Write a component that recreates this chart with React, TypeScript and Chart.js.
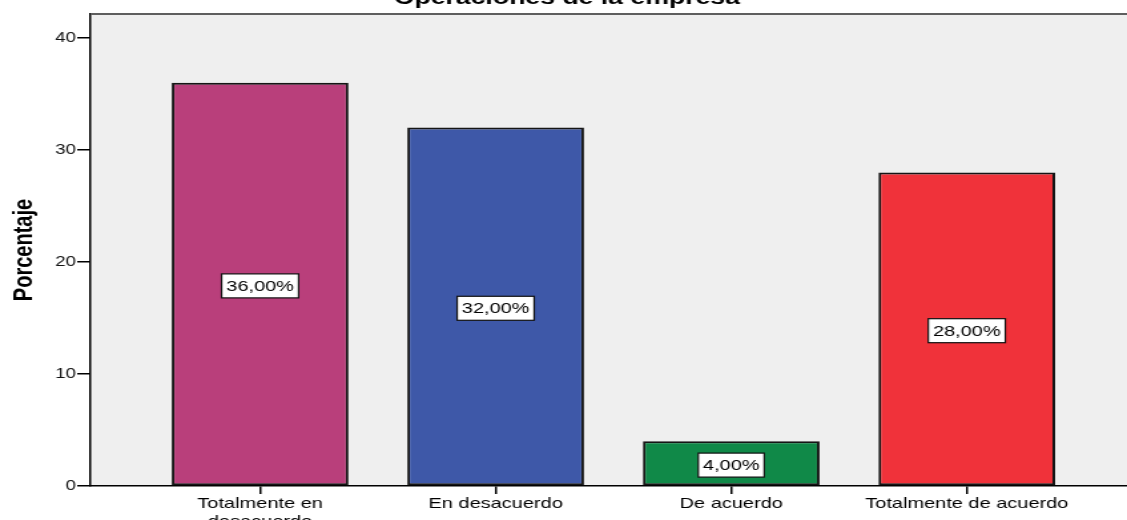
import React, { useEffect, useRef } from 'react';
import { Chart, registerables } from 'chart.js';

Chart.register(...registerables);

// ---- data ----
const categories: string[][] = [
  ['Totalmente en', 'desacuerdo'],
  ['En desacuerdo'],
  ['De acuerdo'],
  ['Totalmente de acuerdo'],
];
const percentages = [36, 32, 4, 28];
const barColors = ['#b93f7b', '#3e58a8', '#108948', '#f0323a'];
const yTickStep = 10;
const chartTitle = 'Operaciones de la empresa';
const yAxisTitle = 'Porcentaje';

// ---- layout / style ----
const STRETCH = 1.33; // reference is horizontally stretched
const VIEW_W = 1127;
const VIEW_H = 520;
const CANVAS_W = Math.round(VIEW_W / STRETCH);
const FONT = '"Liberation Sans", Arial, Helvetica, sans-serif';

const fmt = (v: number) => v.toFixed(2).replace('.', ',') + '%';

const decorPlugin = {
  id: 'decor',
  beforeDraw(chart: any) {
    const { ctx, chartArea } = chart;
    ctx.save();
    ctx.fillStyle = '#efefef';
    ctx.fillRect(chartArea.left, chartArea.top, chartArea.right - chartArea.left, chartArea.bottom - chartArea.top);
    ctx.restore();
  },
  afterDraw(chart: any) {
    const { ctx, chartArea } = chart;
    ctx.save();
    // top frame line
    ctx.strokeStyle = '#5e5e5e';
    ctx.lineWidth = 2;
    ctx.beginPath();
    ctx.moveTo(chartArea.left, chartArea.top);
    ctx.lineTo(chartArea.right, chartArea.top);
    ctx.stroke();
    // title (cropped at top)
    ctx.fillStyle = '#000';
    ctx.font = `bold 20px ${FONT}`;
    ctx.textAlign = 'center';
    ctx.textBaseline = 'alphabetic';
    ctx.fillText(chartTitle, 426, 4);
    // y axis title
    ctx.translate(18, 250);
    ctx.rotate(-Math.PI / 2);
    ctx.font = `bold 20px ${FONT}`;
    ctx.textBaseline = 'middle';
    ctx.fillText(yAxisTitle, 0, 0);
    ctx.restore();
  },
  afterDatasetsDraw(chart: any) {
    const { ctx } = chart;
    const meta = chart.getDatasetMeta(0);
    const y = chart.scales.y;
    ctx.save();
    ctx.font = `15px ${FONT}`;
    ctx.textAlign = 'center';
    ctx.textBaseline = 'middle';
    meta.data.forEach((el: any, i: number) => {
      const v = percentages[i];
      const label = fmt(v);
      const cx = el.x;
      const cy = y.getPixelForValue(v / 2) + 1.5;
      const w = ctx.measureText(label).width + 7;
      const h = 24;
      ctx.fillStyle = '#ffffff';
      ctx.fillRect(cx - w / 2, cy - h / 2, w, h);
      ctx.strokeStyle = '#111';
      ctx.lineWidth = 1.2;
      ctx.strokeRect(cx - w / 2, cy - h / 2, w, h);
      ctx.fillStyle = '#000';
      ctx.fillText(label, cx, cy + 1);
    });
    ctx.restore();
  },
};

export default function App() {
  const canvasRef = useRef<HTMLCanvasElement | null>(null);

  useEffect(() => {
    if (!canvasRef.current) return;
    const chart = new Chart(canvasRef.current, {
      type: 'bar',
      data: {
        datasets: [
          {
            data: percentages.map((v, i) => ({ x: i, y: v })),
            backgroundColor: barColors,
            borderColor: '#151515',
            borderWidth: 2,
            borderSkipped: false,
            barPercentage: 0.75,
            categoryPercentage: 1,
          } as any,
        ],
      },
      options: {
        responsive: false,
        animation: false,
        devicePixelRatio: 1,
        layout: { padding: { top: 14, left: 0, right: 0, bottom: 0 } },
        plugins: {
          legend: { display: false },
          tooltip: { enabled: false },
          title: { display: false },
        },
        scales: {
          x: {
            type: 'linear',
            min: -0.72,
            max: 3.68,
            offset: false,
            grid: {
              display: true,
              drawOnChartArea: false,
              drawTicks: true,
              tickLength: 8,
              color: '#000',
              lineWidth: 1.5,
              offset: false,
            },
            border: { display: true, color: '#000', width: 1.5 },
            afterBuildTicks: (s: any) => {
              s.ticks = categories.map((_, i) => ({ value: i }));
            },
            ticks: {
              autoSkip: false,
              maxRotation: 0,
              padding: 1,
              color: '#000',
              font: { family: FONT, size: 15, lineHeight: 1.2 },
              callback: (v: any) => categories[Number(v)] ?? '',
            },
            afterFit: (s: any) => {
              s.height = 34;
            },
          } as any,
          y: {
            type: 'linear',
            min: 0,
            max: 42.14,
            ticks: {
              stepSize: yTickStep,
              includeBounds: false,
              padding: 1,
              color: '#111',
              font: { family: FONT, size: 14 },
            },
            grid: {
              drawOnChartArea: false,
              tickLength: 10,
              color: '#000',
              lineWidth: 1.5,
            },
            border: { display: true, color: '#000', width: 1.5 },
            afterFit: (s: any) => {
              s.width = 68;
            },
          } as any,
        },
      },
      plugins: [decorPlugin],
    });
    return () => chart.destroy();
  }, []);

  return (
    <div
      style={{
        position: 'fixed',
        left: 0,
        top: 0,
        width: VIEW_W,
        height: VIEW_H,
        overflow: 'hidden',
        background: '#fff',
      }}
    >
      <canvas
        ref={canvasRef}
        width={CANVAS_W}
        height={VIEW_H}
        style={{ width: `${VIEW_W}px`, height: `${VIEW_H}px`, display: 'block' }}
      />
    </div>
  );
}
